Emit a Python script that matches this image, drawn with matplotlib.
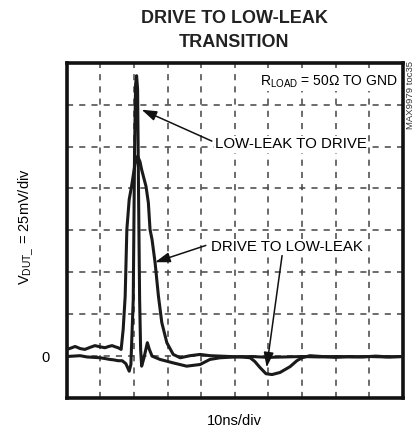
import matplotlib
matplotlib.use("Agg")
import matplotlib.pyplot as plt

plt.rcParams['font.family'] = ['Liberation Sans', 'DejaVu Sans']

# ---- data (x in ns-divisions, y in 25mV-divisions) ----
low_to_drive_x = [0.0, 0.2, 0.4, 0.6, 0.8, 1.0, 1.15, 1.29, 1.4, 1.53, 1.65, 1.76, 1.86, 1.91,
                  1.98, 2.02, 2.05, 2.08, 2.11, 2.14, 2.17, 2.2, 2.23, 2.3, 2.4, 2.46, 2.54,
                  2.78, 3.16, 3.57, 3.97, 4.26, 4.56, 5.0, 5.5, 6.0, 6.5, 7.0, 7.5, 8.0, 8.5,
                  9.0, 9.5, 10.0]
low_to_drive_y = [-0.01, 0.0, 0.01, -0.02, -0.03, -0.04, -0.06, -0.08, -0.09, -0.11, -0.11, -0.18,
                  -0.36, -0.2, 1.35, 4.93, 6.48, 6.69, 6.36, 3.73, 1.35, 0.16, -0.24, -0.04,
                  0.32, 0.16, 0.0, -0.08, -0.16, -0.24, -0.2, -0.08, -0.04, -0.02, -0.01,
                  -0.03, -0.02, -0.01, -0.02, -0.01, -0.02, -0.01, -0.02, -0.01]

drive_to_low_x = [0.0, 0.12, 0.25, 0.4, 0.54, 0.7, 0.84, 1.0, 1.14, 1.25, 1.35, 1.45, 1.53, 1.62,
                  1.68, 1.74, 1.79, 1.86, 1.93, 2.03, 2.11, 2.18, 2.23, 2.36, 2.43, 2.48, 2.54,
                  2.63, 2.73, 2.83, 2.98, 3.17, 3.38, 3.67, 3.97, 4.27, 4.86, 5.2, 5.46, 5.6,
                  5.75, 5.93, 6.11, 6.35, 6.65, 6.85, 7.0, 7.24, 7.6, 8.0, 8.4, 8.8, 9.2,
                  9.6, 10.0]
drive_to_low_y = [0.16, 0.19, 0.23, 0.18, 0.16, 0.21, 0.25, 0.22, 0.2, 0.23, 0.25, 0.22, 0.2, 0.16,
                  0.63, 1.43, 3.02, 3.74, 4.05, 4.57, 4.77, 4.64, 4.45, 4.05, 3.66, 3.02, 2.78,
                  2.23, 1.43, 0.8, 0.32, 0.04, -0.04, 0.01, 0.04, 0.01, -0.01, -0.02, -0.04,
                  -0.13, -0.27, -0.42, -0.44, -0.39, -0.25, -0.11, -0.04, 0.01, -0.01, -0.03,
                  -0.01, -0.02, 0.0, -0.02, -0.01]

x_divs = list(range(0, 11))
y_divs = list(range(-1, 8))

fig = plt.figure(figsize=(4.18, 4.34), dpi=100)
ax = fig.add_axes([0.1596, 0.0829, 0.8038, 0.7726])
ax.set_xlim(0, 10)
ax.set_ylim(-1, 7)
ax.set_xticks(x_divs)
ax.set_yticks(y_divs)
ax.tick_params(length=0, labelbottom=False, labelleft=False)
ax.grid(True, color='#444444', linestyle=(0, (4, 4)), linewidth=1.1)
for s in ax.spines.values():
    s.set_linewidth(2.6)
    s.set_color('#111111')

ax.plot(low_to_drive_x, low_to_drive_y, color='#1a1a1a', lw=2.2, zorder=3)
ax.plot(drive_to_low_x, drive_to_low_y, color='#1a1a1a', lw=2.2, zorder=3)

bbox = dict(facecolor='white', edgecolor='none', pad=1)
arrow = dict(arrowstyle='-|>,head_length=0.9,head_width=0.3', color='#111111',
             lw=1.1, shrinkA=0, shrinkB=0)
ax.text(9.85, 6.55, r'R$_\mathregular{LOAD}$ = 50Ω TO GND', fontsize=10,
        ha='right', va='center', bbox=bbox, zorder=4)
ax.annotate('', xy=(2.23, 5.88), xytext=(4.32, 5.13), arrowprops=arrow, zorder=4)
ax.text(4.42, 5.05, 'LOW-LEAK TO DRIVE', fontsize=10.8, ha='left', va='center',
        bbox=bbox, zorder=4)
ax.annotate('', xy=(2.63, 2.24), xytext=(4.14, 2.64), arrowprops=arrow, zorder=4)
ax.annotate('', xy=(5.95, -0.27), xytext=(6.41, 2.4), arrowprops=arrow, zorder=4)
ax.text(4.28, 2.6, 'DRIVE TO LOW-LEAK', fontsize=10.8, ha='left', va='center',
        bbox=bbox, zorder=4)

fig.text(0.56, 0.9585, 'DRIVE TO LOW-LEAK', fontweight='bold', fontsize=13,
         ha='center', va='center', color='#222222')
fig.text(0.56, 0.902, 'TRANSITION', fontweight='bold', fontsize=13,
         ha='center', va='center', color='#222222')
fig.text(0.56, 0.029, '10ns/div', fontsize=10.5, ha='center', va='center')
fig.text(0.064, 0.477, r'V$_\mathregular{DUT\_}$ = 25mV/div', fontsize=10.5, rotation=90,
         ha='center', va='center')
fig.text(0.11, 0.176, '0', fontsize=10.5, ha='center', va='center')
fig.text(0.981, 0.78, 'MAX9979 toc35', fontsize=6.8, rotation=90, ha='center', va='center',
         color='#333333')

fig.savefig('out.png', dpi=100)
